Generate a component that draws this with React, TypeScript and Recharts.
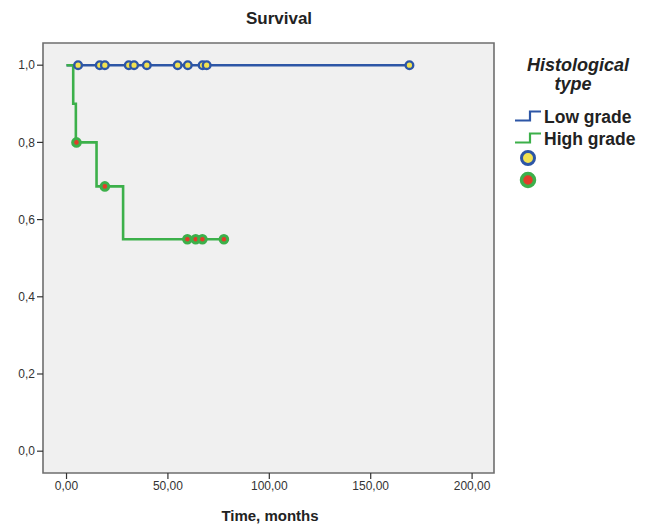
import { ComposedChart, Line, Scatter, XAxis, YAxis, ReferenceArea } from 'recharts';

// Kaplan-Meier steps (time in months, cumulative survival)
const lowStepTime = [0, 169.1];
const lowStepSurv = [1, 1];
const highStepTime = [0, 3.3, 4.6, 14.8, 27.9, 77.6];
const highStepSurv = [1, 0.9, 0.8, 0.686, 0.549, 0.549];

// censored observations
const lowCensorTime = [5.7, 16.4, 18.9, 30.7, 33.3, 39.6, 54.8, 59.8, 67.1, 69.1, 169.1];
const lowCensorSurv = [1, 1, 1, 1, 1, 1, 1, 1, 1, 1, 1];
const highCensorTime = [4.9, 18.9, 59.6, 63.7, 67.0, 77.6];
const highCensorSurv = [0.8, 0.686, 0.549, 0.549, 0.549, 0.549];

const xTicks = [0, 50, 100, 150, 200];
const yTicks = [0, 0.2, 0.4, 0.6, 0.8, 1.0];
const groupNames = ['Low grade', 'High grade'];

const BLUE = '#2d56a6';
const GREEN = '#3cb04a';
const YELLOW = '#f2e250';
const RED = '#e23b2a';

const zip = (t: number[], s: number[]) => t.map((v, i) => ({ t: v, s: s[i] }));

const lowSteps = zip(lowStepTime, lowStepSurv);
const highSteps = zip(highStepTime, highStepSurv);
const lowCensor = zip(lowCensorTime, lowCensorSurv);
const highCensor = zip(highCensorTime, highCensorSurv);

const X_MIN = -11.6;
const X_MAX = 210.8;
const Y_MIN = -0.0565;
const Y_MAX = 1.0575;

const comma = (v: number, d: number) => v.toFixed(d).replace('.', ',');

function censorMark(fill: string, stroke: string, sw: number) {
  return (props: any) => (
    <circle cx={props.cx} cy={props.cy} r={3.8} fill={fill} stroke={stroke} strokeWidth={sw} />
  );
}

function StepIcon({ y, color }: { y: number; color: string }) {
  return (
    <path
      d={`M515,${y + 4.5} L530,${y + 4.5} L530,${y - 4.5} L541,${y - 4.5}`}
      fill="none"
      stroke={color}
      strokeWidth={2.2}
    />
  );
}

export default function App() {
  return (
    <div style={{ position: 'absolute', left: 0, top: 0, width: 657, height: 527, background: '#fff' }}>
      <ComposedChart
        width={657}
        height={527}
        margin={{ top: 43, right: 163, bottom: 24, left: 13 }}
        style={{ position: 'absolute', left: 0, top: 0 }}
      >
        <XAxis
          type="number"
          dataKey="t"
          domain={[X_MIN, X_MAX]}
          ticks={xTicks}
          allowDataOverflow
          tickFormatter={(v: number) => comma(v, 2)}
          axisLine={false}
          tickSize={6}
          tickLine={{ stroke: '#333', strokeWidth: 1.2 }}
          tick={{ fill: '#333', fontSize: 12, fontFamily: 'Liberation Sans, Arial, sans-serif' }}
          height={30}
        />
        <YAxis
          type="number"
          dataKey="s"
          domain={[Y_MIN, Y_MAX]}
          ticks={yTicks}
          allowDataOverflow
          tickFormatter={(v: number) => comma(v, 1)}
          axisLine={false}
          tickSize={6}
          tickLine={{ stroke: '#333', strokeWidth: 1.2 }}
          tick={{ fill: '#333', fontSize: 12, fontFamily: 'Liberation Sans, Arial, sans-serif' }}
          width={30}
        />
        <ReferenceArea
          x1={X_MIN}
          x2={X_MAX}
          y1={Y_MIN}
          y2={Y_MAX}
          fill="#f0f0f0"
          fillOpacity={1}
          stroke="#6e6e6e"
          strokeWidth={1.6}
        />
        <Line
          data={lowSteps}
          dataKey="s"
          type="stepAfter"
          stroke={BLUE}
          strokeWidth={2.5}
          dot={false}
          activeDot={false}
          isAnimationActive={false}
        />
        <Scatter
          data={lowCensor}
          dataKey="s"
          shape={censorMark(YELLOW, BLUE, 2.4)}
          isAnimationActive={false}
        />
        <Line
          data={highSteps}
          dataKey="s"
          type="stepAfter"
          stroke={GREEN}
          strokeWidth={2.6}
          dot={false}
          activeDot={false}
          isAnimationActive={false}
        />
        <Scatter
          data={highCensor}
          dataKey="s"
          shape={censorMark(RED, GREEN, 3)}
          isAnimationActive={false}
        />
      </ComposedChart>

      <svg
        width={657}
        height={527}
        style={{ position: 'absolute', left: 0, top: 0, pointerEvents: 'none' }}
        fontFamily="Liberation Sans, Arial, sans-serif"
      >
        <text x={279} y={24} textAnchor="middle" fontSize={17} fontWeight="bold" fill="#222">
          Survival
        </text>
        <text x={270} y={521} textAnchor="middle" fontSize={15} fontWeight="bold" fill="#222">
          Time, months
        </text>

        <text x={578} y={71} textAnchor="middle" fontSize={18} fontWeight="bold" fontStyle="italic" fill="#222">
          Histological
        </text>
        <text x={573} y={90} textAnchor="middle" fontSize={18} fontWeight="bold" fontStyle="italic" fill="#222">
          type
        </text>

        <StepIcon y={116} color={BLUE} />
        <text x={544} y={123} fontSize={17.5} fontWeight="bold" fill="#222">
          {groupNames[0]}
        </text>
        <StepIcon y={138} color={GREEN} />
        <text x={544} y={145} fontSize={17.5} fontWeight="bold" fill="#222">
          {groupNames[1]}
        </text>

        <circle cx={528} cy={158} r={6.5} fill={YELLOW} stroke={BLUE} strokeWidth={3} />
        <circle cx={528} cy={180} r={6.5} fill={RED} stroke={GREEN} strokeWidth={3.5} />
      </svg>
    </div>
  );
}
